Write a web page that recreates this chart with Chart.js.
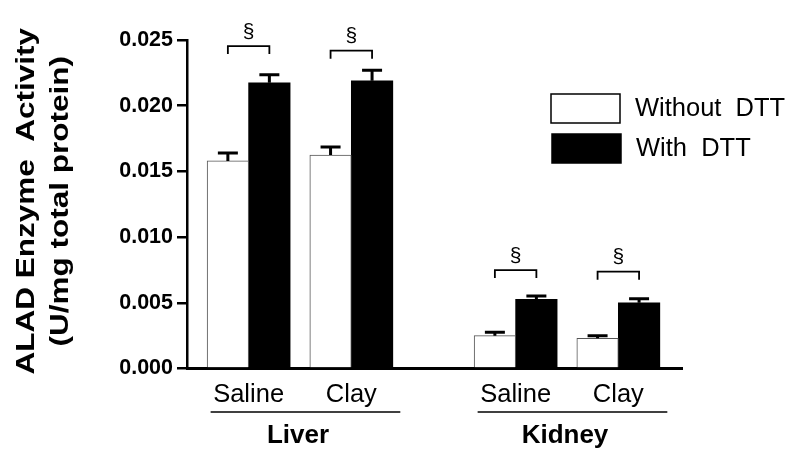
<!DOCTYPE html>
<html>
<head>
<meta charset="utf-8">
<script src="https://cdn.jsdelivr.net/npm/chart.js@4.4.0/dist/chart.umd.min.js"></script>
<style>
  html, body { margin: 0; padding: 0; background: #fff; }
  #wrap { width: 800px; height: 459px; position: relative; }
</style>
</head>
<body>
<div id="wrap"><canvas id="aladChart"></canvas></div>
<script>
// ALAD enzyme activity - liver / kidney, with and without DTT

// Data
const treatments = ['Saline', 'Clay', 'Saline', 'Clay'];
const organs = ['Liver', 'Kidney'];
const organOf = [0, 0, 1, 1];
const xPositions = [0, 1, 2.6, 3.6];
const withoutDTT = [0.0158, 0.01625, 0.0025, 0.0023];
const withoutDTTErr = [0.0006, 0.0006, 0.00025, 0.0002];
const withDTT = [0.02175, 0.0219, 0.00527, 0.0050];
const withDTTErr = [0.0006, 0.0008, 0.00025, 0.0003];
const bracketLevels = [0.02454, 0.02419, 0.00749, 0.00737];
const yTicks = [0, 0.005, 0.010, 0.015, 0.020, 0.025];
const yTitle = ['ALAD Enzyme  Activity', '(U/mg total protein)'];

const FONT = "'Liberation Sans', Arial, Helvetica, sans-serif";

function toPoints(values) {
    return values.map((v, i) => ({ x: xPositions[i], y: v }));
}

// Y title, error bars, significance brackets, category labels and legend
const annotationsPlugin = {
    id: 'annotations',
    afterDraw(chart) {
        const ctx = chart.ctx;
        const yScale = chart.scales.y;
        const xScale = chart.scales.x;
        const errors = [withoutDTTErr, withDTTErr];
        const metaWithout = chart.getDatasetMeta(0);
        const metaWith = chart.getDatasetMeta(1);

        ctx.save();
        ctx.strokeStyle = '#000';
        ctx.fillStyle = '#000';

        // rotated y title (the original type is drawn elongated)
        ctx.save();
        ctx.font = 'bold 25px ' + FONT;
        ctx.textAlign = 'center';
        ctx.textBaseline = 'middle';
        const titleMid = (yScale.top + yScale.bottom) / 2 - 3;
        yTitle.forEach((line, i) => {
            ctx.save();
            ctx.translate(27 + i * 34, titleMid);
            ctx.rotate(-Math.PI / 2);
            ctx.scale(1.26, 1);
            ctx.fillText(line, 0, 0);
            ctx.restore();
        });
        ctx.restore();

        // upper error bars
        [metaWithout, metaWith].forEach((meta, d) => {
            const ds = chart.data.datasets[d];
            meta.data.forEach((bar, i) => {
                const top = yScale.getPixelForValue(ds.data[i].y + errors[d][i]);
                ctx.lineWidth = 3;
                ctx.beginPath();
                ctx.moveTo(bar.x, bar.y);
                ctx.lineTo(bar.x, top);
                ctx.moveTo(bar.x - 10, top);
                ctx.lineTo(bar.x + 10, top);
                ctx.stroke();
            });
        });

        // significance brackets
        bracketLevels.forEach((lvl, i) => {
            const xl = metaWithout.data[i].x;
            const xr = metaWith.data[i].x;
            const yp = yScale.getPixelForValue(lvl);
            ctx.lineWidth = 1.8;
            ctx.beginPath();
            ctx.moveTo(xl, yp + 8);
            ctx.lineTo(xl, yp);
            ctx.lineTo(xr, yp);
            ctx.lineTo(xr, yp + 8);
            ctx.stroke();
            ctx.font = '21px ' + FONT;
            ctx.textAlign = 'center';
            ctx.textBaseline = 'middle';
            ctx.fillText('§', (xl + xr) / 2, yp - 14);
        });

        // treatment labels under each pair
        ctx.font = '25.5px ' + FONT;
        ctx.textAlign = 'center';
        ctx.textBaseline = 'alphabetic';
        treatments.forEach((t, i) => {
            ctx.fillText(t, xScale.getPixelForValue(xPositions[i]), 402);
        });

        // organ group lines and labels
        organs.forEach((name, g) => {
            const idx = organOf.map((o, i) => (o === g ? i : -1)).filter(i => i >= 0);
            const first = xScale.getPixelForValue(xPositions[idx[0]]);
            const last = xScale.getPixelForValue(xPositions[idx[idx.length - 1]]);
            ctx.lineWidth = 1.6;
            ctx.beginPath();
            ctx.moveTo(first - 38, 412);
            ctx.lineTo(last + 49, 412);
            ctx.stroke();
            ctx.font = 'bold 26px ' + FONT;
            ctx.fillText(name, (first + last) / 2 - 2, 443);
        });

        // legend
        const boxes = [[551, 94], [552, 134]];
        chart.data.datasets.forEach((ds, d) => {
            const [bx, by] = boxes[d];
            ctx.fillStyle = ds.backgroundColor;
            ctx.fillRect(bx, by, 69, 29);
            ctx.lineWidth = 1.5;
            ctx.strokeStyle = '#000';
            ctx.strokeRect(bx, by, 69, 29);
            ctx.fillStyle = '#000';
            ctx.font = '25.5px ' + FONT;
            ctx.textAlign = 'left';
            ctx.textBaseline = 'middle';
            ctx.fillText(ds.label, bx + 84, by + 15);
        });

        ctx.restore();
    }
};

document.addEventListener('DOMContentLoaded', function() {
    const ctx = document.getElementById('aladChart');
    new Chart(ctx, {
        type: 'bar',
        data: {
            datasets: [{
                label: 'Without  DTT',
                data: toPoints(withoutDTT),
                backgroundColor: '#ffffff',
                borderColor: '#555555',
                borderWidth: 1,
                barThickness: 41.5
            }, {
                label: 'With  DTT',
                data: toPoints(withDTT),
                backgroundColor: '#000000',
                borderColor: '#000000',
                borderWidth: 0,
                barThickness: 41.5
            }]
        },
        options: {
            responsive: true,
            maintainAspectRatio: false,
            animation: false,
            layout: {
                padding: { left: 0, right: 118, top: 40, bottom: 0 }
            },
            plugins: {
                legend: { display: false },
                tooltip: { enabled: false }
            },
            scales: {
                x: {
                    type: 'linear',
                    offset: false,
                    min: -0.6,
                    max: 4.22,
                    grid: { display: false, offset: false },
                    ticks: { display: false },
                    border: { display: true, color: '#000', width: 3 },
                    afterFit: function(scale) { scale.height = 90.5; }
                },
                y: {
                    min: 0,
                    max: 0.025,
                    afterBuildTicks: function(scale) {
                        scale.ticks = yTicks.map(v => ({ value: v }));
                    },
                    ticks: {
                        color: '#000',
                        padding: 4,
                        font: { family: FONT, size: 21.5, weight: 'bold' },
                        callback: function(value) { return value.toFixed(3); }
                    },
                    grid: {
                        display: true,
                        drawOnChartArea: false,
                        drawTicks: true,
                        tickLength: 10,
                        color: '#000',
                        lineWidth: 2.5
                    },
                    border: { display: true, color: '#000', width: 2.5 },
                    title: { display: false },
                    afterFit: function(scale) { scale.width = 187; }
                }
            }
        },
        plugins: [annotationsPlugin]
    });
});
</script>
</body>
</html>
